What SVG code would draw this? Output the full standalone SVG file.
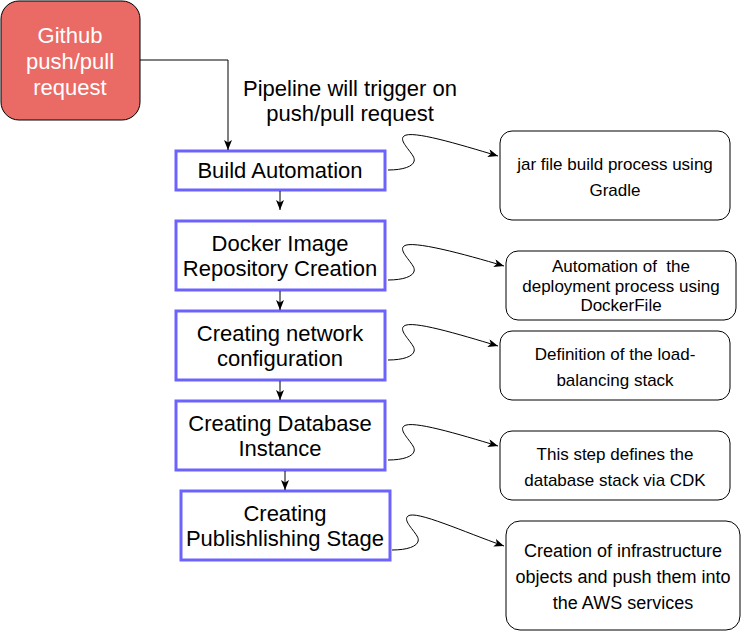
<svg xmlns="http://www.w3.org/2000/svg" width="741" height="631" viewBox="0 0 741 631">
<style>
text{font-family:"Liberation Sans",Arial,sans-serif;text-anchor:middle;fill:#000}
.step{fill:#fff;stroke:#6c63ff;stroke-width:3}
.note{fill:#fff;stroke:#000;stroke-width:1}
.big{font-size:22px}
.sm{font-size:17px}
.md{font-size:18px}
.edge{fill:none;stroke:#000;stroke-width:1}
</style>
<defs>
<marker id="arr" markerUnits="userSpaceOnUse" markerWidth="12" markerHeight="10" refX="10" refY="4" orient="auto">
<path d="M0,0 L10,4 L0,8 L2.5,4 Z" fill="#000"/>
</marker>
</defs>
<g id="github">
<rect x="1" y="1" width="139" height="119" rx="18" fill="#ea6b66" stroke="#000" stroke-width="1"/>
<text class="big" x="70" y="43" style="fill:#fff">Github</text>
<text class="big" x="70" y="69" style="fill:#fff">push/pull</text>
<text class="big" x="70" y="95" style="fill:#fff">request</text>
</g>
<g id="label">
<text class="big" x="350" y="96">Pipeline will trigger on</text>
<text class="big" x="350" y="121">push/pull request</text>
</g>
<g id="build">
<rect class="step" x="176" y="151" width="209" height="39"/>
<text class="big" x="280" y="178">Build Automation</text>
</g>
<g id="docker">
<rect class="step" x="176" y="221" width="209" height="69"/>
<text class="big" x="280" y="251">Docker Image</text>
<text class="big" x="280" y="276">Repository Creation</text>
</g>
<g id="network">
<rect class="step" x="176" y="311" width="209" height="69"/>
<text class="big" x="280" y="341">Creating network</text>
<text class="big" x="280" y="366">configuration</text>
</g>
<g id="database">
<rect class="step" x="176" y="401" width="209" height="69"/>
<text class="big" x="280" y="431">Creating Database</text>
<text class="big" x="280" y="456">Instance</text>
</g>
<g id="publishing">
<rect class="step" x="181" y="491" width="209" height="69"/>
<text class="big" x="285" y="521">Creating</text>
<text class="big" x="285" y="546">Publishlishing Stage</text>
</g>
<g id="note1">
<rect class="note" x="500" y="131" width="230" height="89" rx="12"/>
<text class="sm" x="615" y="170">jar file build process using</text>
<text class="sm" x="615" y="196">Gradle</text>
</g>
<g id="note2">
<rect class="note" x="506" y="251" width="230" height="69" rx="12"/>
<text class="sm" x="621" y="272">Automation of &#160;the</text>
<text class="sm" x="621" y="292">deployment process using</text>
<text class="sm" x="621" y="311">DockerFile</text>
</g>
<g id="note3">
<rect class="note" x="500" y="331" width="230" height="69" rx="12"/>
<text class="sm" x="615" y="360">Definition of the load-</text>
<text class="sm" x="615" y="386">balancing stack</text>
</g>
<g id="note4">
<rect class="note" x="500" y="431" width="230" height="69" rx="12"/>
<text class="sm" x="615" y="460">This step defines the</text>
<text class="sm" x="615" y="486">database stack via CDK</text>
</g>
<g id="note5">
<rect class="note" x="506" y="521" width="234" height="109" rx="14"/>
<text class="md" x="623" y="557">Creation of infrastructure</text>
<text class="md" x="623" y="583">objects and push them into</text>
<text class="md" x="623" y="609">the AWS services</text>
</g>
<g id="connectors">
<path class="edge" d="M140,60 H228 V150" marker-end="url(#arr)"/>
<path class="edge" d="M280,191 V210" marker-end="url(#arr)"/>
<path class="edge" d="M280,291 V310" marker-end="url(#arr)"/>
<path class="edge" d="M280,381 V400" marker-end="url(#arr)"/>
<path class="edge" d="M285,471 V490" marker-end="url(#arr)"/>
<path class="edge" d="M388,170 c20,0 30,-6 25,-14 c-5,-8 -14,-16 -9,-20 C412,130 458,144 498,156" marker-end="url(#arr)"/>
<path class="edge" d="M388,280 c20,0 30,-6 25,-14 c-5,-8 -14,-16 -9,-20 C412,240 464,254 504,266" marker-end="url(#arr)"/>
<path class="edge" d="M388,360 c20,0 30,-6 25,-14 c-5,-8 -14,-16 -9,-20 C412,320 458,334 498,346" marker-end="url(#arr)"/>
<path class="edge" d="M388,460 c20,0 30,-6 25,-14 c-5,-8 -14,-16 -9,-20 C412,420 458,434 498,446" marker-end="url(#arr)"/>
<path class="edge" d="M392,550 c20,0 30,-6 25,-14 c-5,-8 -14,-16 -9,-20 C416,510 464,532 504,546" marker-end="url(#arr)"/>
</g>
</svg>
